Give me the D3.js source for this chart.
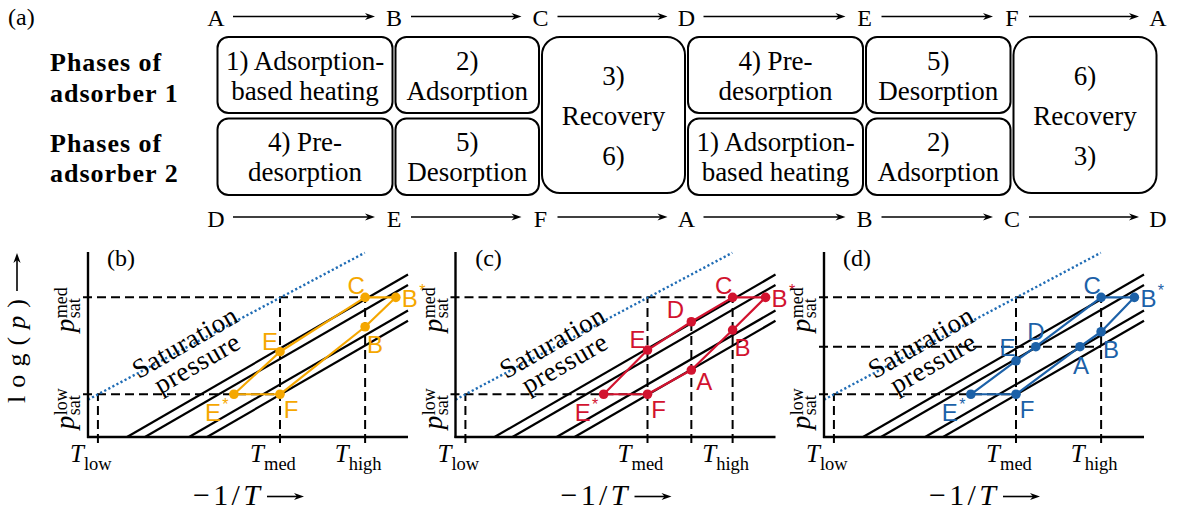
<!DOCTYPE html>
<html><head><meta charset="utf-8">
<script src="https://cdn.jsdelivr.net/npm/d3@7"></script>
<style>
html,body{margin:0;padding:0;background:#fff;}
svg{display:block;}
</style></head>
<body>
<svg id="chart" width="1180" height="512"></svg>
<script>
// ---------- (a) cycle schedule ----------
const topStates = ["A", "B", "C", "D", "E", "F", "A"];
const bottomStates = ["D", "E", "F", "A", "B", "C", "D"];
const rowTitles = [["Phases of", "adsorber 1"], ["Phases of", "adsorber 2"]];
// one entry per step: phase text for adsorber 1 (row 0) and adsorber 2 (row 1);
// a step with a single entry is shared by both adsorbers
const phaseSteps = [
  [["1) Adsorption-", "based heating"], ["4) Pre-", "desorption"]],
  [["2)", "Adsorption"], ["5)", "Desorption"]],
  [["3)", "Recovery", "6)"]],
  [["4) Pre-", "desorption"], ["1) Adsorption-", "based heating"]],
  [["5)", "Desorption"], ["2)", "Adsorption"]],
  [["6)", "Recovery", "3)"]]
];

// ---------- (b)-(d) isostere diagrams, axes in arbitrary units ----------
const isostereIntercepts = [12.2, 17.8, 31.6, 37.2];   // -1/T where each isostere meets the axis
const saturationLine = [[0, 20.2], [86.5, 99.6]];
const tempTicks = [["low", 3.1], ["med", 60], ["high", 86.6]];
const pressTicks = [["low", 23.1], ["med", 75.5]];
const panelNames = ["(b)", "(c)", "(d)"];
const cycleB = [["C", 86.6, 75.5], ["B*", 96.2, 75.5], ["B", 86.6, 59.6], ["F", 60, 23.1], ["E*", 45.6, 23.1], ["E", 60, 46.1]];
const cycleC = [["C", 86.6, 75.5], ["B*", 96.9, 75.5], ["B", 86.6, 57.8], ["A", 73.7, 36.2], ["F", 60, 23.1], ["E*", 46.3, 23.1], ["E", 60, 47.0], ["D", 73.7, 62.3]];
const cycleD = [["C", 86.6, 75.5], ["B*", 97.0, 75.5], ["B", 86.6, 56.9], ["A", 80.0, 48.8], ["F", 60, 23.1], ["E*", 45.9, 23.1], ["E", 60, 41.2], ["D", 66.2, 48.8]];
const midTempC = 73.7;      // extra temperature guide in (c)
const midPressD = 48.8;     // extra pressure guide in (d)

// ---------- drawing ----------
const SERIF = "'Liberation Serif','Times New Roman',serif";
const SANS = "'Liberation Sans',Arial,sans-serif";
const svg = d3.select("#chart");

function arrow(g, x1, y1, x2, y2) {
  const a = Math.atan2(y2 - y1, x2 - x1);
  g.append("line")
    .attr("x1", x1).attr("y1", y1)
    .attr("x2", x2 - 6 * Math.cos(a)).attr("y2", y2 - 6 * Math.sin(a))
    .attr("stroke", "#000").attr("stroke-width", 1.6);
  g.append("path")
    .attr("d", "M0,0 L-10,-3.6 L-7,0 L-10,3.6 Z")
    .attr("transform", `translate(${x2},${y2}) rotate(${a * 180 / Math.PI})`)
    .attr("fill", "#000");
}

// schedule layout
const stepX = d3.scaleOrdinal().domain(d3.range(7)).range([216, 394, 540.5, 686.5, 864.5, 1012, 1158]);
const rowY = [[37, 113], [118.5, 195]];
const sched = svg.append("g");

sched.append("text").attr("x", 8).attr("y", 25).attr("font-family", SERIF).attr("font-size", 24).text("(a)");

[[topStates, 26, 16.5], [bottomStates, 227, 217]].forEach(([states, base, ay]) => {
  states.forEach((s, i) => {
    sched.append("text").attr("x", stepX(i)).attr("y", base)
      .attr("text-anchor", "middle").attr("font-family", SERIF).attr("font-size", 24).text(s);
    if (i < states.length - 1) arrow(sched, stepX(i) + 17, ay, stepX(i + 1) - 19, ay);
  });
});

rowTitles.forEach((lines, r) => {
  lines.forEach((t, k) => {
    sched.append("text").attr("x", 50).attr("y", (r === 0 ? 71 : 151.5) + k * 30.5)
      .attr("font-family", SERIF).attr("font-weight", "bold").attr("font-size", 26)
      .attr("letter-spacing", 1).text(t);
  });
});

phaseSteps.forEach((cells, c) => {
  const x0 = stepX(c) + 1.5, x1 = stepX(c + 1) - 1.5;
  cells.forEach((lines, r) => {
    const shared = cells.length === 1;
    const y0 = shared ? rowY[0][0] : rowY[r][0];
    const y1 = shared ? rowY[1][1] - 2 : rowY[r][1];
    sched.append("rect").attr("x", x0).attr("y", y0).attr("width", x1 - x0).attr("height", y1 - y0)
      .attr("rx", shared ? 18 : 11).attr("fill", "none").attr("stroke", "#000").attr("stroke-width", 2);
    const cy = (y0 + y1) / 2, lh = shared ? 40 : 30;
    lines.forEach((t, k) => {
      sched.append("text").attr("x", (x0 + x1) / 2).attr("y", cy + 9.5 + (k - (lines.length - 1) / 2) * lh)
        .attr("text-anchor", "middle").attr("font-family", SERIF).attr("font-size", 27).text(t);
    });
  });
});

// isostere panels
const panelLeft = [88, 455.5, 824];
const colors = ["#f5a700", "#d2132f", "#1c61a8"];
const cycles = [cycleB, cycleC, cycleD];
const nudge = { "C": [-9, -3], "B*": [14, 9.5], "B": [10, 26], "F": [11, 24], "E": [-10, -2], "E*": [-21, 27], "A": [13, 20], "D": [-16, -4] };
const nudgeD = { "A": [1, 27], "D": [0, -7], "E": [-8.5, -4.5] };
const dash = "9,5";

panelNames.forEach((name, i) => {
  const g = svg.append("g");
  const x = d3.scaleLinear().domain([0, 100]).range([panelLeft[i], panelLeft[i] + 320]);
  const y = d3.scaleLinear().domain([0, 100]).range([437, 252]);
  const tick = Object.fromEntries(tempTicks), pt = Object.fromEntries(pressTicks);
  const below = y.invert(443), left = x.invert(x(0) - 5);

  const guide = (xa, ya, xb, yb) => g.append("line")
    .attr("x1", x(xa)).attr("y1", y(ya)).attr("x2", x(xb)).attr("y2", y(yb))
    .attr("stroke", "#000").attr("stroke-width", 2).attr("stroke-dasharray", dash);

  // dashed guides
  guide(tick.low, below, tick.low, pt.low);
  guide(tick.med, below, tick.med, pt.med);
  guide(tick.high, below, tick.high, pt.med);
  guide(left, pt.low, tick.med, pt.low);
  guide(left, pt.med, tick.high, pt.med);
  const cyc = cycles[i];
  if (i === 1) guide(midTempC, below, midTempC, cyc.find(d => d[0] === "D")[2]);
  if (i === 2) guide(left, midPressD, tick.high, midPressD);

  // saturation pressure
  g.append("line")
    .attr("x1", x(saturationLine[0][0])).attr("y1", y(saturationLine[0][1]))
    .attr("x2", x(saturationLine[1][0])).attr("y2", y(saturationLine[1][1]))
    .attr("stroke", "#1f6cb5").attr("stroke-width", 2.4).attr("stroke-dasharray", "2.2,2.4");

  // isosteres
  isostereIntercepts.forEach(b => {
    g.append("line").attr("x1", x(b)).attr("y1", y(0)).attr("x2", x(100)).attr("y2", y(100 - b))
      .attr("stroke", "#000").attr("stroke-width", 2.2);
  });

  // axes
  g.append("line").attr("x1", x(0)).attr("y1", y(100)).attr("x2", x(0)).attr("y2", y(0) + 1)
    .attr("stroke", "#000").attr("stroke-width", 2.4);
  g.append("line").attr("x1", x(0) - 1).attr("y1", y(0)).attr("x2", x(100)).attr("y2", y(0))
    .attr("stroke", "#000").attr("stroke-width", 2.4);

  // cycle
  const col = colors[i];
  g.append("path").datum(cyc)
    .attr("d", d3.line().x(d => x(d[1])).y(d => y(d[2])).curve(d3.curveLinearClosed))
    .attr("fill", "none").attr("stroke", col).attr("stroke-width", 2.2).attr("stroke-linejoin", "round");
  g.selectAll("circle.pt").data(cyc).join("circle")
    .attr("cx", d => x(d[1])).attr("cy", d => y(d[2])).attr("r", 4.8).attr("fill", col);
  cyc.forEach(d => {
    const n = (i === 2 && nudgeD[d[0]]) || nudge[d[0]];
    const lx = x(d[1]) + n[0], ly = y(d[2]) + n[1];
    g.append("text").attr("x", lx).attr("y", ly).attr("text-anchor", "middle")
      .attr("font-family", SANS).attr("font-size", 24).attr("fill", col).text(d[0][0]);
    if (d[0].length > 1) g.append("text").attr("x", lx + 12.5).attr("y", ly - 11)
      .attr("text-anchor", "middle").attr("font-family", SANS).attr("font-size", 16).attr("fill", col).text("*");
  });

  // panel tag
  g.append("text").attr("x", x(0) + 33).attr("y", 266).attr("text-anchor", "middle")
    .attr("font-family", SERIF).attr("font-size", 24).text(name);

  // saturation label
  [["Saturation", 101.5, 350], ["pressure", 113.5, 370.8]].forEach(([t, dx, by]) => {
    g.append("text").attr("transform", `translate(${x(0) + dx},${by}) rotate(-30)`)
      .attr("text-anchor", "middle").attr("font-family", SERIF).attr("font-size", 27).attr("letter-spacing", 0.6).text(t);
  });

  // temperature tick labels
  tempTicks.forEach(([sub, v]) => {
    const t = g.append("text").attr("x", x(v) - 7).attr("y", 462).attr("text-anchor", "middle")
      .attr("font-family", SERIF).attr("font-size", 25);
    t.append("tspan").attr("font-style", "italic").text("T");
    t.append("tspan").attr("font-size", 18.5).attr("dy", 7.5).text(sub);
  });

  // pressure tick labels (rotated)
  pressTicks.forEach(([sup, v]) => {
    const lg = g.append("g").attr("transform", `translate(${x(0) - 14},${y(v) + 35}) rotate(-90)`)
      .attr("font-family", SERIF);
    lg.append("text").attr("x", 0).attr("y", 0).attr("font-size", 27).attr("font-style", "italic").text("p");
    lg.append("text").attr("x", 14).attr("y", 6).attr("font-size", 18).text("sat");
    lg.append("text").attr("x", 14).attr("y", -7).attr("font-size", 18).text(sup);
  });

  // x-axis title
  const xt = g.append("text").attr("x", x(0) + 105).attr("y", 505)
    .attr("font-family", SERIF).attr("font-size", 30)
    .attr("textLength", 67).attr("lengthAdjust", "spacing");
  xt.append("tspan").text("\u22121/");
  xt.append("tspan").attr("font-style", "italic").text("T");
  arrow(g, x(0) + 179, 496.5, x(0) + 216, 496.5);

  // y-axis title
  if (i === 0) {
    const yt = g.append("text").attr("transform", "translate(25,403) rotate(-90)")
      .attr("font-family", SERIF).attr("font-size", 26)
      .attr("textLength", 104).attr("lengthAdjust", "spacing");
    yt.append("tspan").text("log(");
    yt.append("tspan").attr("font-style", "italic").text("p");
    yt.append("tspan").text(")");
    arrow(g, 17, 291, 17, 253);
  }
});
</script>
</body></html>
